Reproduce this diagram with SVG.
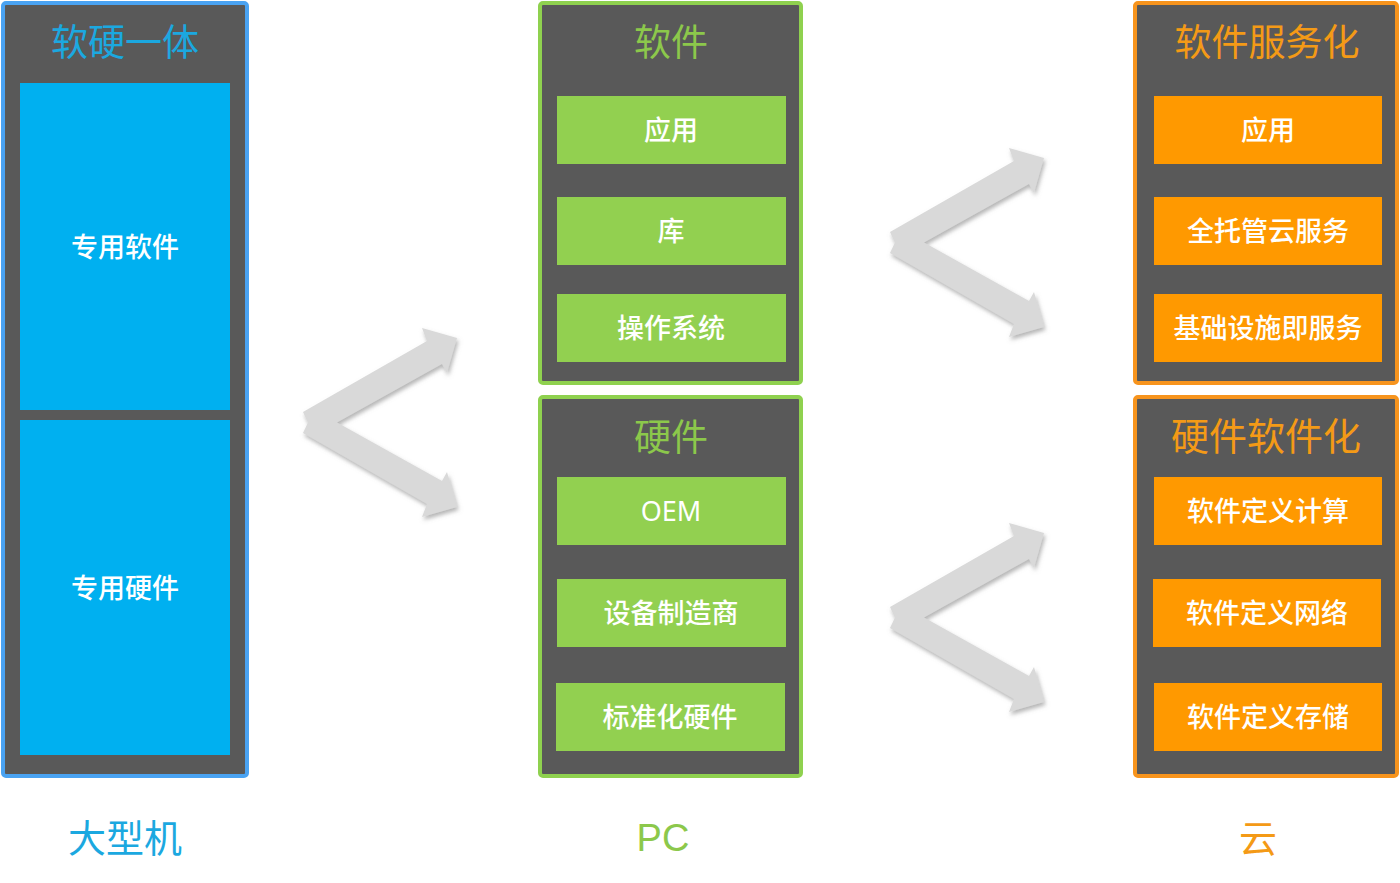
<svg xmlns="http://www.w3.org/2000/svg" width="1400" height="883" viewBox="0 0 1400 883">
<defs>
<filter id="sh" x="-20%" y="-20%" width="140%" height="140%">
<feDropShadow dx="1.5" dy="3" stdDeviation="2" flood-color="#777" flood-opacity="0.55"/>
</filter>
<polygon id="chev" points="303,412 427,341 422,328 457,338 447,373 442,364 337,422.5 442,481 447,472 457,507 422,517 427,504 303,433 308,422.5"/>
</defs>
<style>
text{font-family:"Noto Sans CJK SC","Noto Sans",sans-serif;text-anchor:middle}
.box{fill:#595959;stroke-width:4}
.b{stroke:#4aa3f2}.g{stroke:#8fd14f}.o{stroke:#f7941d}
.gi{fill:#92d050}.oi{fill:#ff9900}.bi{fill:#00b0f0}
.t{font-size:37px}
.it{font-size:27px;fill:#ffffff;font-weight:500}
.bt{fill:#1ba8e0}.gt{fill:#8cc84b}.ot{fill:#f49a16}
.lab{font-size:38px}
.arrow{fill:#d9d9d9;filter:url(#sh)}
</style>
<rect width="1400" height="883" fill="#ffffff"/>

<g id="mainframe">
<rect class="box b" x="3" y="3" width="244" height="773" rx="3"/>
<text class="t bt" x="125" y="56">软硬一体</text>
<rect class="bi" x="20" y="83" width="210" height="327"/>
<text class="it" x="125" y="257">专用软件</text>
<rect class="bi" x="20" y="420" width="210" height="335"/>
<text class="it" x="125" y="598">专用硬件</text>
</g>

<g id="pc-software">
<rect class="box g" x="540" y="3" width="261" height="380" rx="3"/>
<text class="t gt" x="671" y="56">软件</text>
<rect class="gi" x="557" y="96" width="229" height="68"/>
<text class="it" x="671" y="140">应用</text>
<rect class="gi" x="557" y="197" width="229" height="68"/>
<text class="it" x="671" y="241">库</text>
<rect class="gi" x="557" y="294" width="229" height="68"/>
<text class="it" x="671" y="338">操作系统</text>
</g>

<g id="pc-hardware">
<rect class="box g" x="540" y="397" width="261" height="379" rx="3"/>
<text class="t gt" x="671" y="451">硬件</text>
<rect class="gi" x="557" y="477" width="229" height="68"/>
<text class="it" x="671" y="521" style="font-family:'Noto Sans',sans-serif;font-weight:400">OEM</text>
<rect class="gi" x="557" y="579" width="229" height="68"/>
<text class="it" x="671" y="623">设备制造商</text>
<rect class="gi" x="556" y="683" width="229" height="68"/>
<text class="it" x="670" y="727">标准化硬件</text>
</g>

<g id="cloud-software">
<rect class="box o" x="1135" y="3" width="262" height="380" rx="3"/>
<text class="t ot" x="1267" y="56">软件服务化</text>
<rect class="oi" x="1154" y="96" width="228" height="68"/>
<text class="it" x="1268" y="140">应用</text>
<rect class="oi" x="1154" y="197" width="228" height="68"/>
<text class="it" x="1268" y="241">全托管云服务</text>
<rect class="oi" x="1154" y="294" width="228" height="68"/>
<text class="it" x="1268" y="338">基础设施即服务</text>
</g>

<g id="cloud-hardware">
<rect class="box o" x="1135" y="397" width="262" height="379" rx="3"/>
<text class="t ot" x="1266" y="450" style="font-size:38px">硬件软件化</text>
<rect class="oi" x="1154" y="477" width="228" height="68"/>
<text class="it" x="1268" y="521">软件定义计算</text>
<rect class="oi" x="1153" y="579" width="228" height="68"/>
<text class="it" x="1267" y="623">软件定义网络</text>
<rect class="oi" x="1154" y="683" width="228" height="68"/>
<text class="it" x="1268" y="727">软件定义存储</text>
</g>

<g id="labels">
<text class="lab bt" x="125" y="852">大型机</text>
<text class="lab gt" x="663" y="851" style="font-family:'Liberation Sans',sans-serif">PC</text>
<text class="lab ot" x="1258" y="852">云</text>
</g>

<g id="connectors">
<use href="#chev" class="arrow"/>
<use href="#chev" class="arrow" transform="translate(587,-180)"/>
<use href="#chev" class="arrow" transform="translate(587,195)"/>
</g>
</svg>
